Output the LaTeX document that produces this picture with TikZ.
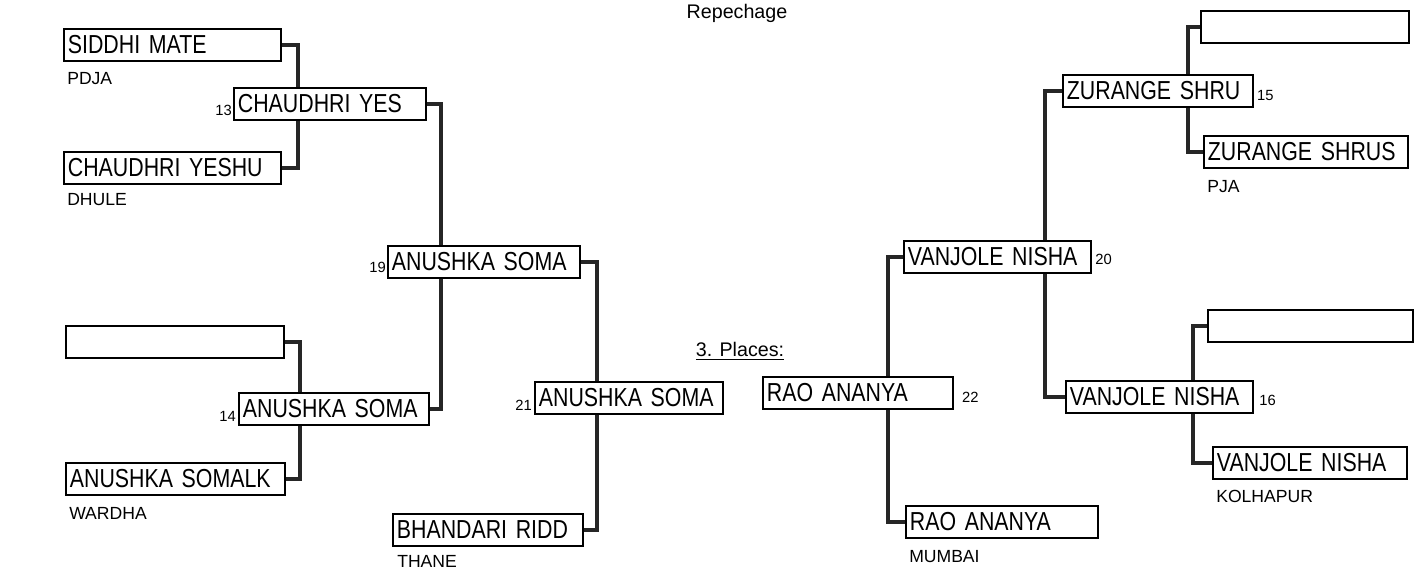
\documentclass[tikz,border=0pt]{standalone}
\usepackage{fontspec}
\setmainfont{Liberation Sans}
\newfontfamily\namefont[FakeStretch=0.82]{Liberation Sans}
\usetikzlibrary{positioning,backgrounds}
\tikzset{
player/.style={draw,line width=1.3pt,fill=white,anchor=west,minimum height=0.8cm,inner xsep=0.1cm,inner ysep=0pt,text width=#1,align=left,font=\namefont\fontsize{18.5}{19}\selectfont},
club/.style={anchor=north west,inner sep=0pt,font=\fontsize{12.5}{12.5}\selectfont},
seedl/.style={anchor=south east,inner sep=0pt,font=\fontsize{10.5}{10.5}\selectfont},
seedr/.style={anchor=south west,inner sep=0pt,font=\fontsize{10.5}{10.5}\selectfont},
bracket/.style={line width=2.8pt,draw=black!85}}

\begin{document}
\begin{tikzpicture}[x=0.025cm,y=-0.025cm]
\useasboundingbox (0,0) rectangle (1423,570);

\node[anchor=base,font=\fontsize{14}{14}\selectfont] (rep) at (737,19) {Repechage};
\node[anchor=base,font=\fontsize{14}{14}\selectfont] (pl) at (740,357) {\underline{3. Places:}};

\node[player=5.22cm] (sm) at (63,45) {SIDDHI~MATE};
\node[player=5.22cm] (cyu) at (63,168) {CHAUDHRI~YESHU};
\node[player=5.25cm] (le) at (65,342) {};
\node[player=5.27cm] (asl) at (65,479) {ANUSHKA~SOMALK};
\node[player=4.6cm] (cy) at (233,104) {CHAUDHRI~YES};
\node[player=4.55cm] (as14) at (238,409) {ANUSHKA~SOMA};
\node[player=4.6cm] (as19) at (387,262) {ANUSHKA~SOMA};
\node[player=4.5cm] (as21) at (534,398) {ANUSHKA~SOMA};
\node[player=4.55cm] (br) at (392,530) {BHANDARI~RIDD};

\node[player=5.0cm] (te) at (1200,27) {};
\node[player=4.55cm] (zs15) at (1062,91) {ZURANGE~SHRU};
\node[player=4.9cm] (zss) at (1203,152) {ZURANGE~SHRUS};
\node[player=4.93cm] (me) at (1207,326) {};
\node[player=4.48cm] (vn16) at (1065,397) {VANJOLE~NISHA};
\node[player=4.65cm] (vnk) at (1212,463) {VANJOLE~NISHA};
\node[player=4.48cm] (vn20) at (903,257) {VANJOLE~NISHA};
\node[player=4.55cm] (ra22) at (762,393) {RAO~ANANYA};
\node[player=4.6cm] (ram) at (905,522) {RAO~ANANYA};

\node[club] (pdja) at ([shift={(4,10)}]sm.south west) {PDJA};
\node[club] (dhule) at ([shift={(4,8)}]cyu.south west) {DHULE};
\node[club] (wardha) at ([shift={(4,11)}]asl.south west) {WARDHA};
\node[club] (thane) at ([shift={(5,8)}]br.south west) {THANE};
\node[club] (pja) at ([shift={(4,11)}]zss.south west) {PJA};
\node[club] (kolh) at ([shift={(4,10)}]vnk.south west) {KOLHAPUR};
\node[club] (mum) at ([shift={(4,11)}]ram.south west) {MUMBAI};

\node[seedl] (n13) at ([shift={(-1,-5)}]cy.south west) {13};
\node[seedl] (n14) at ([shift={(-2,-4)}]as14.south west) {14};
\node[seedl] (n19) at ([shift={(-1,-6)}]as19.south west) {19};
\node[seedl] (n21) at ([shift={(-2,-4)}]as21.south west) {21};
\node[seedr] (n15) at ([shift={(3,-7)}]zs15.south east) {15};
\node[seedr] (n16) at ([shift={(5,-8)}]vn16.south east) {16};
\node[seedr] (n20) at ([shift={(3,-9)}]vn20.south east) {20};
\node[seedr] (n22) at ([shift={(8,-7)}]ra22.south east) {22};

\begin{scope}[on background layer]
\draw[bracket] (sm.east) -- ++(16,0) |- (cyu.east);
\draw[bracket] (le.east) -- ++(15,0) |- (asl.east);
\draw[bracket] (cy.east) -- ++(14,0) |- (as14.east);
\draw[bracket] (as19.east) -- ++(16,0) |- (br.east);
\draw[bracket] (te.west) -- ++(-12,0) |- (zss.west);
\draw[bracket] (me.west) -- ++(-14,0) |- (vnk.west);
\draw[bracket] (zs15.west) -- ++(-17,0) |- (vn16.west);
\draw[bracket] (vn20.west) -- ++(-15,0) |- (ram.west);
\end{scope}

\end{tikzpicture}
\end{document}
